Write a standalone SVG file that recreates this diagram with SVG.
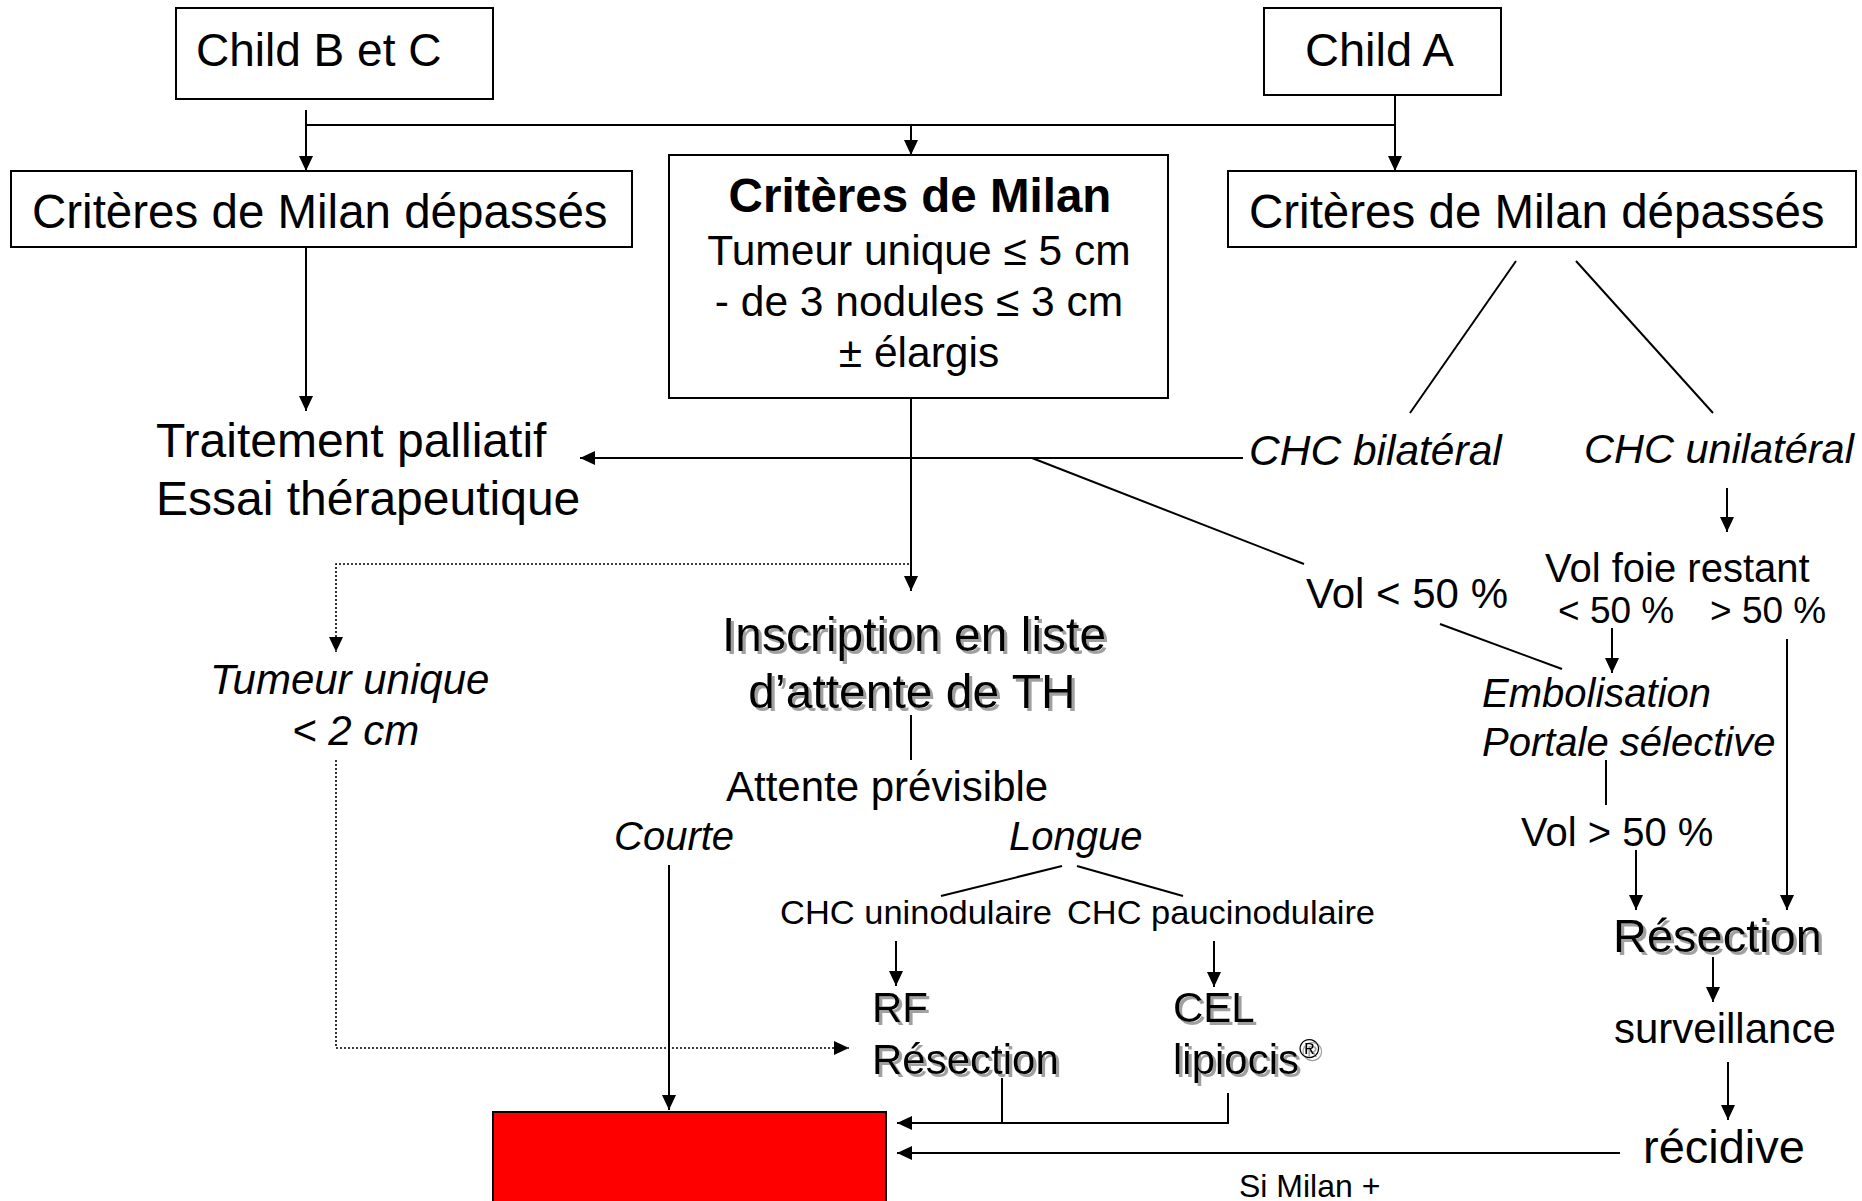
<svg xmlns="http://www.w3.org/2000/svg" width="1862" height="1201" viewBox="0 0 1862 1201">
<style>
text{font-family:"Liberation Sans",Arial,sans-serif;fill:#000}
.box{fill:#fff;stroke:#000;stroke-width:2}
.ln{fill:none;stroke:#000;stroke-width:2}
.dot{fill:none;stroke:#000;stroke-width:1.6;stroke-dasharray:2 2}
.it{font-style:italic}
.sh{filter:url(#shadow)}
</style>
<defs>
<marker id="arr" markerUnits="userSpaceOnUse" markerWidth="16" markerHeight="16" refX="15" refY="7" orient="auto">
<path d="M0,0 L15,7 L0,14 z" fill="#000"/>
</marker>
<filter id="shadow" x="-5%" y="-20%" width="115%" height="150%">
<feOffset in="SourceAlpha" dx="2.5" dy="2.5" result="o"/>
<feFlood flood-color="#a0a0a0"/>
<feComposite in2="o" operator="in" result="s"/>
<feMerge><feMergeNode in="s"/><feMergeNode in="SourceGraphic"/></feMerge>
</filter>
</defs>
<rect width="1862" height="1201" fill="#fff"/>

<g id="connectors">
<path class="ln" d="M306,110 V171" marker-end="url(#arr)"/>
<path class="ln" d="M306,125 H1395"/>
<path class="ln" d="M1395,95 V171" marker-end="url(#arr)"/>
<path class="ln" d="M911,125 V155" marker-end="url(#arr)"/>
<path class="ln" d="M306,247 V411" marker-end="url(#arr)"/>
<path class="ln" d="M911,398 V591" marker-end="url(#arr)"/>
<path class="ln" d="M1243,458 H580" marker-end="url(#arr)"/>
<path class="ln" d="M1032,458 L1304,564"/>
<path class="ln" d="M1516,261 L1410,413"/>
<path class="ln" d="M1576,261 L1713,413"/>
<path class="ln" d="M1727,488 V532" marker-end="url(#arr)"/>
<path class="ln" d="M1440,624 L1562,669"/>
<path class="ln" d="M1612,628 V673" marker-end="url(#arr)"/>
<path class="ln" d="M1787,639 V910" marker-end="url(#arr)"/>
<path class="ln" d="M1606,760 V805"/>
<path class="ln" d="M1636,850 V910" marker-end="url(#arr)"/>
<path class="ln" d="M1713,957 V1002" marker-end="url(#arr)"/>
<path class="ln" d="M1728,1062 V1120" marker-end="url(#arr)"/>
<path class="ln" d="M1620,1153 H897" marker-end="url(#arr)"/>
<path class="ln" d="M911,715 V760"/>
<path class="ln" d="M1062,866 L941,896"/>
<path class="ln" d="M1077,866 L1183,896"/>
<path class="ln" d="M896,941 V986" marker-end="url(#arr)"/>
<path class="ln" d="M1214,941 V987" marker-end="url(#arr)"/>
<path class="ln" d="M669,865 V1110" marker-end="url(#arr)"/>
<path class="ln" d="M1002,1078 V1123"/>
<path class="ln" d="M1228,1093 V1123 H897" marker-end="url(#arr)"/>
<path class="dot" d="M909,564 H336 V652" marker-end="url(#arr)"/>
<path class="dot" d="M336,760 V1048 H849" marker-end="url(#arr)"/>
</g>

<g id="child-bc">
<rect class="box" x="176" y="8" width="317" height="91"/>
<text x="196" y="66" font-size="46">Child B et C</text>
</g>
<g id="child-a">
<rect class="box" x="1264" y="8" width="237" height="87"/>
<text x="1305" y="66" font-size="47">Child A</text>
</g>
<g id="milan-depasses-left">
<rect class="box" x="11" y="171" width="621" height="76"/>
<text x="32" y="228" font-size="47.5">Critères de Milan dépassés</text>
</g>
<g id="milan-depasses-right">
<rect class="box" x="1228" y="171" width="628" height="76"/>
<text x="1249" y="228" font-size="47.5">Critères de Milan dépassés</text>
</g>
<g id="milan">
<rect class="box" x="669" y="155" width="499" height="243"/>
<text x="920" y="212" font-size="47.5" font-weight="bold" text-anchor="middle">Critères de Milan</text>
<text x="919" y="265" font-size="42.5" text-anchor="middle">Tumeur unique ≤ 5 cm</text>
<text x="919" y="316" font-size="42.5" text-anchor="middle">- de 3 nodules ≤ 3 cm</text>
<text x="919" y="367" font-size="42.5" text-anchor="middle">± élargis</text>
</g>
<g id="palliatif">
<text x="156" y="457" font-size="48">Traitement palliatif</text>
<text x="156" y="515" font-size="48">Essai thérapeutique</text>
</g>
<g id="chc-bilateral">
<text class="it" x="1249" y="465" font-size="42.5">CHC bilatéral</text>
</g>
<g id="chc-unilateral">
<text class="it" x="1584" y="463" font-size="41.5">CHC unilatéral</text>
</g>
<g id="vol-inf-50">
<text x="1306" y="608" font-size="42">Vol &lt; 50 %</text>
</g>
<g id="vol-foie-restant">
<text x="1545" y="582" font-size="40">Vol foie restant</text>
<text x="1558" y="623" font-size="37">&lt; 50 %</text>
<text x="1710" y="623" font-size="37">&gt; 50 %</text>
</g>
<g id="embolisation">
<text class="it" x="1482" y="707" font-size="40">Embolisation</text>
<text class="it" x="1482" y="756" font-size="40">Portale sélective</text>
</g>
<g id="vol-sup-50">
<text x="1521" y="846" font-size="40">Vol &gt; 50 %</text>
</g>
<g id="resection-right">
<text class="sh" x="1613" y="952" font-size="47">Résection</text>
</g>
<g id="surveillance">
<text x="1614" y="1043" font-size="42">surveillance</text>
</g>
<g id="recidive">
<text x="1643" y="1163" font-size="47">récidive</text>
</g>
<g id="si-milan">
<text x="1239" y="1197" font-size="32">Si Milan +</text>
</g>
<g id="tumeur-unique">
<text class="it" x="210" y="694" font-size="42">Tumeur unique</text>
<text class="it" x="292" y="745" font-size="42">&lt; 2 cm</text>
</g>
<g id="inscription">
<text class="sh" x="914" y="651" font-size="48" text-anchor="middle">Inscription en liste</text>
<text class="sh" x="912" y="708" font-size="48" text-anchor="middle">d’attente de TH</text>
</g>
<g id="attente">
<text x="726" y="801" font-size="42">Attente prévisible</text>
</g>
<g id="courte">
<text class="it" x="614" y="850" font-size="40">Courte</text>
</g>
<g id="longue">
<text class="it" x="1009" y="850" font-size="40">Longue</text>
</g>
<g id="chc-uninodulaire">
<text x="780" y="924" font-size="34" textLength="272" lengthAdjust="spacingAndGlyphs">CHC uninodulaire</text>
</g>
<g id="chc-paucinodulaire">
<text x="1067" y="924" font-size="34" textLength="308" lengthAdjust="spacingAndGlyphs">CHC paucinodulaire</text>
</g>
<g id="rf-resection">
<text class="sh" x="872" y="1022" font-size="42">RF</text>
<text class="sh" x="872" y="1074" font-size="42">Résection</text>
</g>
<g id="cel-lipiocis">
<text class="sh" x="1173" y="1022" font-size="42">CEL</text>
<text class="sh" x="1173" y="1074" font-size="42">lipiocis<tspan font-size="28" dy="-16">®</tspan></text>
</g>
<g id="red-box">
<rect x="493" y="1112" width="393" height="100" fill="#ff0000" stroke="#000" stroke-width="2"/>
</g>
</svg>
